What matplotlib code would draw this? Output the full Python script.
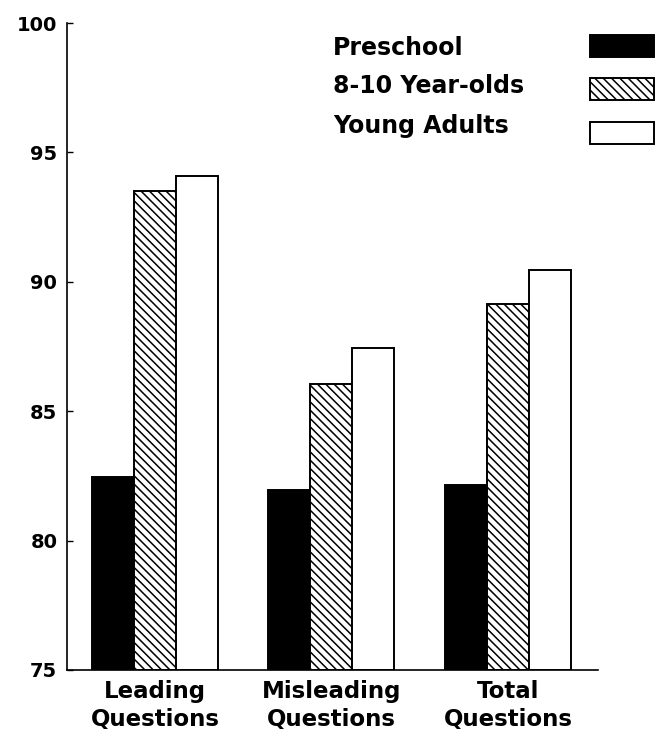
import matplotlib
matplotlib.use("Agg")
import matplotlib.pyplot as plt
import numpy as np

# values (percent)
categories = ["Leading\nQuestions", "Misleading\nQuestions", "Total\nQuestions"]
groups = ["Preschool", "8-10 Year-olds", "Young Adults"]
preschool = [82.45, 81.95, 82.15]
school_age = [93.5, 86.05, 89.15]
young_adults = [94.1, 87.45, 90.45]
yticks = [75, 80, 85, 90, 95, 100]

plt.rcParams['font.family'] = ['DejaVu Sans']
plt.rcParams['font.weight'] = 'bold'
plt.rcParams['hatch.linewidth'] = 1.1

fig = plt.figure(figsize=(6.56, 7.40), dpi=100)
ax = fig.add_axes([0.1021, 0.0946, 0.8095, 0.8743])

x = np.arange(len(categories))
w = 0.238
styles = [dict(color='black', edgecolor='black'),
          dict(color='white', edgecolor='black', hatch='\\\\\\\\'),
          dict(color='white', edgecolor='black')]
series = [preschool, school_age, young_adults]
bars = []
for i, (vals, st) in enumerate(zip(series, styles)):
    b = ax.bar(x + (i - 1) * w, [v - 75 for v in vals], w, bottom=75,
               linewidth=1.4, label=groups[i], **st)
    bars.append(b)

ax.set_ylim(75, 100)
ax.set_xlim(-0.4986, 2.51)
ax.set_yticks(yticks)
ax.set_xticks(x)
ax.set_xticklabels(categories, fontsize=16.5, fontweight='bold', linespacing=1.25)
ax.tick_params(axis='y', direction='in', length=4.5, width=1, pad=7, labelsize=14)
ax.tick_params(axis='x', length=0, pad=7.5)
for lab in ax.get_yticklabels():
    lab.set_fontweight('bold')

ax.spines['top'].set_visible(False)
ax.spines['right'].set_visible(False)
ax.spines['left'].set_linewidth(1.2)
ax.spines['bottom'].set_linewidth(1.2)

# legend: left-aligned labels, swatches at the right edge of the figure
label_y = [55, 93, 133]
for name, yy in zip(groups, label_y):
    fig.text(333 / 656, 1 - yy / 740, name, fontsize=17, fontweight='bold',
             ha='left', va='baseline')

leg = fig.legend(handles=bars, labels=['', '', ''], loc='upper left',
                 bbox_to_anchor=(590 / 656, 1 - 35 / 740),
                 frameon=False, fontsize=16.5,
                 handlelength=2.8, handleheight=1.1, handletextpad=0,
                 labelspacing=0.85, borderpad=0, borderaxespad=0)

fig.savefig("out.png", dpi=100, facecolor='white')
